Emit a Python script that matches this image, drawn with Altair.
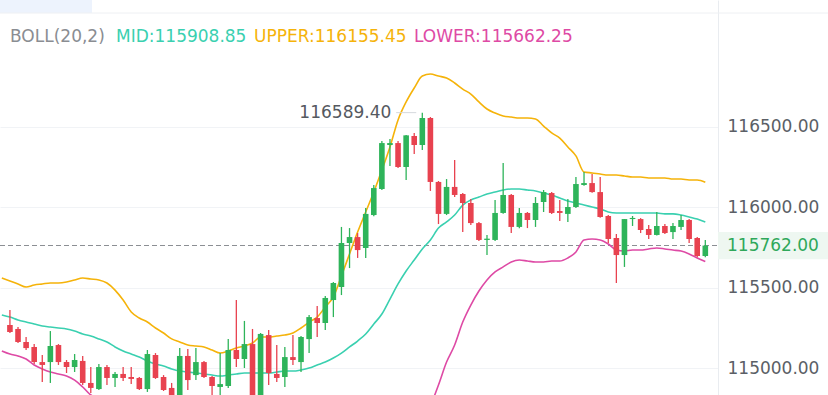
import altair as alt
import pandas as pd

# ---- candle data (index 0..86) ----
opens = [115268, 115243, 115162, 115131, 115037, 115037, 115143, 115037, 115006, 115044,
         114907, 114869, 115006, 114938, 114963, 114944, 114938, 114869, 115081, 114944,
         114876, 114813, 115075, 114956, 115037, 114944, 114882, 114888, 115112, 115056,
         115149, 114820, 115205, 114963, 114944, 115068, 115037, 115180, 115311, 115280,
         115423, 115504, 115778, 115815, 115747, 115952, 116114, 116388, 116400, 116251,
         116444, 116388, 116556, 116158, 115959, 116127, 116083, 116027, 115902, 115797,
         115797, 115965, 116077, 115878, 115965, 115921, 116033, 116089, 115977, 115959,
         116002, 116139, 116151, 116095, 115946, 115809, 115703, 115927, 115927, 115865,
         115828, 115884, 115846, 115878, 115921, 115809, 115697]
highs = [115361, 115255, 115193, 115149, 115081, 115230, 115149, 115050, 115087, 115075,
         115006, 115025, 115019, 114975, 115006, 115006, 114944, 115112, 115093, 114956,
         114907, 115124, 115118, 115124, 115043, 114950, 115093, 115180, 115423, 115293,
         115243, 115218, 115237, 115143, 115131, 115205, 115199, 115330, 115386, 115448,
         115535, 115878, 115871, 115840, 115996, 116139, 116413, 116425, 116413, 116450,
         116463, 116589.4, 116562, 116164, 116176, 116295, 116089, 116052, 115909, 115828,
         116046, 116276, 116083, 115996, 115971, 116064, 116108, 116095, 116046, 116052,
         116189, 116220, 116207, 116189, 115952, 115834, 115927, 115946, 115933, 115890,
         115971, 115896, 115902, 115952, 115927, 115815, 115797]
lows = [115218, 115156, 115112, 115025, 114913, 114907, 115019, 114969, 114975, 114894,
        114844, 114863, 114894, 114882, 114919, 114900, 114863, 114851, 114932, 114857,
        114813, 114801, 114863, 114925, 114938, 114832, 114820, 114876, 115006, 115000,
        114801, 114801, 114894, 114913, 114882, 115019, 114975, 115093, 115193, 115237,
        115317, 115454, 115622, 115685, 115685, 115945, 116108, 116257, 116245, 116170,
        116332, 116357, 116102, 115896, 115952, 116064, 115846, 115890, 115790, 115703,
        115790, 115960, 115840, 115870, 115871, 115878, 115971, 115959, 115915, 115909,
        115996, 116135, 116090, 115935, 115778, 115529, 115629, 115884, 115840, 115803,
        115825, 115834, 115803, 115859, 115778, 115690, 115690]
closes = [115224, 115162, 115124, 115037, 115019, 115137, 115037, 115006, 115050, 114907,
          114876, 115006, 114938, 114963, 114938, 114932, 114869, 115087, 114938, 114863,
          114826, 115075, 114925, 115037, 114944, 114888, 114900, 115112, 115056, 115149,
          114820, 115212, 114969, 114938, 115068, 115050, 115193, 115317, 115280, 115436,
          115529, 115778, 115815, 115734, 115959, 116120, 116400, 116400, 116251, 116448,
          116388, 116556, 116158, 115959, 116127, 116077, 116027, 115902, 115797, 115805,
          115965, 116077, 115878, 115965, 115921, 116027, 116095, 115965, 115965, 116002,
          116145, 116151, 116095, 115940, 115803, 115703, 115927, 115934, 115859, 115828,
          115884, 115840, 115884, 115921, 115803, 115697, 115762]

# ---- Bollinger bands (index -1..86) ----
upper = [115560, 115542, 115523, 115504, 115517, 115523, 115529, 115529, 115535, 115548, 115560,
         115554, 115548, 115529, 115485, 115423, 115349, 115311, 115286, 115249, 115218,
         115181, 115162, 115143, 115137, 115131, 115112, 115093, 115106, 115124, 115137,
         115156, 115193, 115193, 115199, 115205, 115218, 115249, 115286, 115317, 115380,
         115442, 115573, 115710, 115846, 115971, 116095, 116232, 116376, 116544, 116656,
         116743, 116817, 116830, 116817, 116805, 116774, 116736, 116705, 116656, 116612,
         116587, 116568, 116562, 116556, 116556, 116550, 116506, 116463, 116431, 116376,
         116320, 116220, 116214, 116207, 116201, 116201, 116195, 116189, 116189, 116183,
         116183, 116183, 116176, 116176, 116170, 116170, 116155.45]
mid = [115330, 115317, 115299, 115286, 115274, 115261, 115255, 115249, 115243, 115230, 115212,
       115199, 115181, 115162, 115131, 115106, 115087, 115068, 115044, 115025, 115012,
       114994, 114981, 114975, 114969, 114963, 114956, 114950, 114956, 114963, 114969,
       114969, 114969, 114969, 114975, 114981, 114981, 114988, 115000, 115019, 115037,
       115062, 115093, 115131, 115168, 115212, 115274, 115336, 115429, 115523, 115604,
       115672, 115741, 115797, 115871, 115909, 115952, 116014, 116046, 116064, 116083,
       116095, 116108, 116114, 116114, 116108, 116102, 116089, 116077, 116058, 116039,
       116027, 116014, 116002, 115990, 115971, 115965, 115965, 115965, 115965, 115965,
       115965, 115959, 115959, 115952, 115940, 115927, 115908.85]
lower = [115106, 115087, 115075, 115056, 115019, 114994, 114975, 114963, 114950, 114925, 114882,
         114832, 114813, 114795, 114776, 114782, 114795, 114795, 114795, 114788, 114782,
         114776, 114770, 114770, 114770, 114770, 114770, 114770, 114770, 114770, 114763,
         114763, 114745, 114745, 114751, 114757, 114745, 114726, 114714, 114720, 114695,
         114683, 114614, 114552, 114490, 114452, 114452, 114440, 114483, 114502, 114552,
         114602, 114664, 114764, 114894, 115037, 115143, 115286, 115392, 115479, 115548,
         115598, 115629, 115660, 115672, 115666, 115660, 115660, 115666, 115666, 115685,
         115722, 115797, 115803, 115797, 115772, 115734, 115728, 115734, 115734, 115741,
         115747, 115741, 115734, 115728, 115710, 115685, 115662.25]

tick_values = [115000, 115500, 116000, 116500]

GREEN = "#2eb45a"
RED = "#e8424f"
MIDC = "#3ad0b0"
UPC = "#f5b30a"
LOWC = "#de4aa5"
FONT = "DejaVu Sans"
FS = 17

n = len(opens)
cdf = pd.DataFrame({"i": list(range(n)), "open": opens, "high": highs,
                    "low": lows, "close": closes})

bidx = list(range(-1, n))
bdf = pd.concat([
    pd.DataFrame({"i": bidx, "v": upper, "band": "upper"}),
    pd.DataFrame({"i": bidx, "v": mid, "band": "mid"}),
    pd.DataFrame({"i": bidx, "v": lower, "band": "lower"}),
])

xs = alt.Scale(domain=[-0.6098, 86.951], nice=False, zero=False)
ys = alt.Scale(domain=[114832, 117290.4], nice=False, zero=False)
yaxis = alt.Axis(
    orient="right", values=tick_values, format=".2f", labelFont=FONT,
    labelFontSize=FS, labelColor="#5b5f66", ticks=False, domain=True,
    domainColor="#e9ecf0", grid=True, gridColor="#f1f3f6", labelPadding=9, title=None)
col = alt.condition("datum.close >= datum.open", alt.value(GREEN), alt.value(RED))
X = lambda f: alt.X(f, scale=xs, axis=None)
Y = lambda f: alt.Y(f, scale=ys, axis=yaxis)

base = alt.Chart(cdf)

wicks = base.mark_rule(strokeWidth=1.3, clip=True).encode(
    x=X("i:Q"), y=Y("low:Q"), y2="high:Q", color=col)

bodies = base.mark_bar(size=5.6, clip=True).encode(
    x=X("i:Q"), y=Y("open:Q"), y2="close:Q", color=col)

bands = alt.Chart(bdf).mark_line(strokeWidth=1.6, clip=True, interpolate="monotone").encode(
    x=X("i:Q"), y=Y("v:Q"),
    color=alt.Color("band:N", scale=alt.Scale(domain=["upper", "mid", "lower"],
                                              range=[UPC, MIDC, LOWC]), legend=None),
    detail="band:N")

last = closes[-1]
price_line = alt.Chart(pd.DataFrame({"p": [last]})).mark_rule(
    color="#8c8f94", strokeDash=[5, 3], strokeWidth=1.1).encode(
    y=Y("p:Q"), x=alt.value(0), x2=alt.value(718))

price_box = alt.Chart(pd.DataFrame({"a": [last + 85], "b": [last - 85]})).mark_rect(
    color="#eef7f1").encode(
    y=Y("a:Q"), y2="b:Q", x=alt.value(718), x2=alt.value(828))

price_text = alt.Chart(pd.DataFrame({"p": [last], "t": [f"{last:.2f}"]})).mark_text(
    align="left", baseline="middle", font=FONT, fontSize=FS, color="#2fa85a").encode(
    y=Y("p:Q"), x=alt.value(727), text="t:N")

imax = highs.index(max(highs))
max_df = pd.DataFrame({"i": [imax], "p": [max(highs)], "t": [f"{max(highs):.2f}"]})
max_rule = alt.Chart(max_df).mark_rule(color="#d5d8dd", strokeWidth=1).encode(
    x=X("a:Q"), x2="b:Q", y=Y("p:Q")).transform_calculate(
    a="datum.i - 3.23", b="datum.i - 0.75")
max_text = alt.Chart(max_df).mark_text(
    align="right", baseline="middle", font=FONT, fontSize=FS, color="#555960", dx=-31).encode(
    x=X("i:Q"), y=Y("p:Q"), text="t:N")

top_rect = alt.Chart(pd.DataFrame({"k": [0]})).mark_rect(color="#edf3fd").encode(
    x=alt.value(0), x2=alt.value(92), y=alt.value(0), y2=alt.value(13))
top_line = alt.Chart(pd.DataFrame({"k": [0]})).mark_rule(color="#eef0f3").encode(
    x=alt.value(0), x2=alt.value(828), y=alt.value(13))

segs = [("BOLL(20,2)", "#8a8d92", 10),
        (f"MID:{mid[-1]:.2f}", MIDC, 116),
        (f"UPPER:{upper[-1]:.2f}", UPC, 254),
        (f"LOWER:{lower[-1]:.2f}", LOWC, 414)]
title_layers = [
    alt.Chart(pd.DataFrame({"t": [t]})).mark_text(
        align="left", baseline="middle", font=FONT, fontSize=FS, color=c).encode(
        x=alt.value(xp), y=alt.value(37), text="t:N")
    for t, c, xp in segs
]

chart = alt.layer(
    top_rect, top_line, price_box, price_line, bands, wicks, bodies,
    max_rule, max_text, price_text, *title_layers
).properties(
    width=718, height=395, autosize="none",
    padding={"left": 0, "top": 0, "right": 110, "bottom": 0},
    background="white"
).configure_view(stroke=None)

chart.save("out.html", embed_options={"renderer": "svg", "actions": False})
